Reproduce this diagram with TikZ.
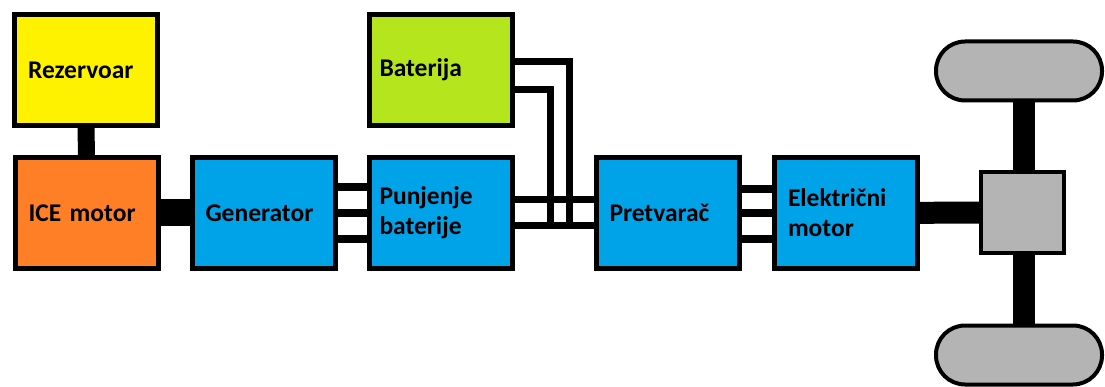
\documentclass[tikz,border=0pt]{standalone}
\usepackage{fontspec}
\setmainfont{Carlito}
\definecolor{zuta}{HTML}{FFF200}
\definecolor{narandzasta}{HTML}{FF7F27}
\definecolor{plava}{HTML}{00A2E8}
\definecolor{zelena}{HTML}{B5E61D}
\definecolor{siva}{HTML}{B4B4B4}
\begin{document}
\begin{tikzpicture}[x=1pt,y=-1pt,
  blok/.style={draw, line width=5pt, minimum width=143pt, minimum height=111pt,
    inner sep=0pt, text width=116pt, align=left,
    font=\bfseries\fontsize{25.5}{30}\selectfont},
  tocak/.style={draw, fill=siva, line width=4pt, rounded corners=29pt,
    minimum width=166pt, minimum height=59pt},
  vod/.style={line width=8pt},
  osovina/.style={line width=22pt}]
  \useasboundingbox (0,0) rectangle (1105,387);
  % blokovi
  \node[blok, fill=zuta] (rez) at (86,70) {Rezervoar};
  \node[blok, fill=narandzasta] (ice) at (86.5,213) {ICE motor};
  \node[blok, fill=plava] (gen) at (263.5,213) {Generator};
  \node[blok, fill=plava, text width=122pt] (pun) at (440.5,213) {Punjenje\\baterije};
  \node[blok, fill=zelena, text width=122pt] (bat) at (440.5,70) {Baterija};
  \node[blok, fill=plava] (pre) at (667.5,213) {Pretvarač};
  \node[blok, fill=plava] (elm) at (846,213) {Električni\\motor};
  % pogon
  \node[draw, fill=siva, line width=4pt, minimum width=83pt, minimum height=81pt] (dif) at (1022.5,212.5) {};
  \node[tocak] (tgore) at (1019,71) {};
  \node[tocak] (tdole) at (1019,355) {};
  % veze
  \draw[line width=17pt] (rez) -- (ice);
  \draw[line width=27pt] (ice) -- (gen);
  \foreach \d in {26,0,-26}
    \draw[vod] ([yshift=\d pt]gen.east) -- ([yshift=\d pt]pun.west);
  \foreach \d in {13,-13}
    \draw[vod, line width=7pt] ([yshift=\d pt]pun.east) -- ([yshift=\d pt]pre.west);
  \coordinate (k1) at (569,226);
  \coordinate (k2) at (550,226);
  \draw[vod, line width=7pt] ([yshift=8pt]bat.east) -| (k1);
  \draw[vod, line width=7pt] ([yshift=-20pt]bat.east) -| (k2);
  \foreach \d in {24,0,-26}
    \draw[vod] ([yshift=\d pt]pre.east) -- ([yshift=\d pt]elm.west);
  \draw[osovina] (elm) -- (dif);
  \draw[osovina] ([xshift=1.5pt]dif.north) -- ([xshift=1.5pt]dif.north |- tgore.south);
  \draw[osovina] ([xshift=1.5pt]dif.south) -- ([xshift=1.5pt]dif.south |- tdole.north);
\end{tikzpicture}
\end{document}
